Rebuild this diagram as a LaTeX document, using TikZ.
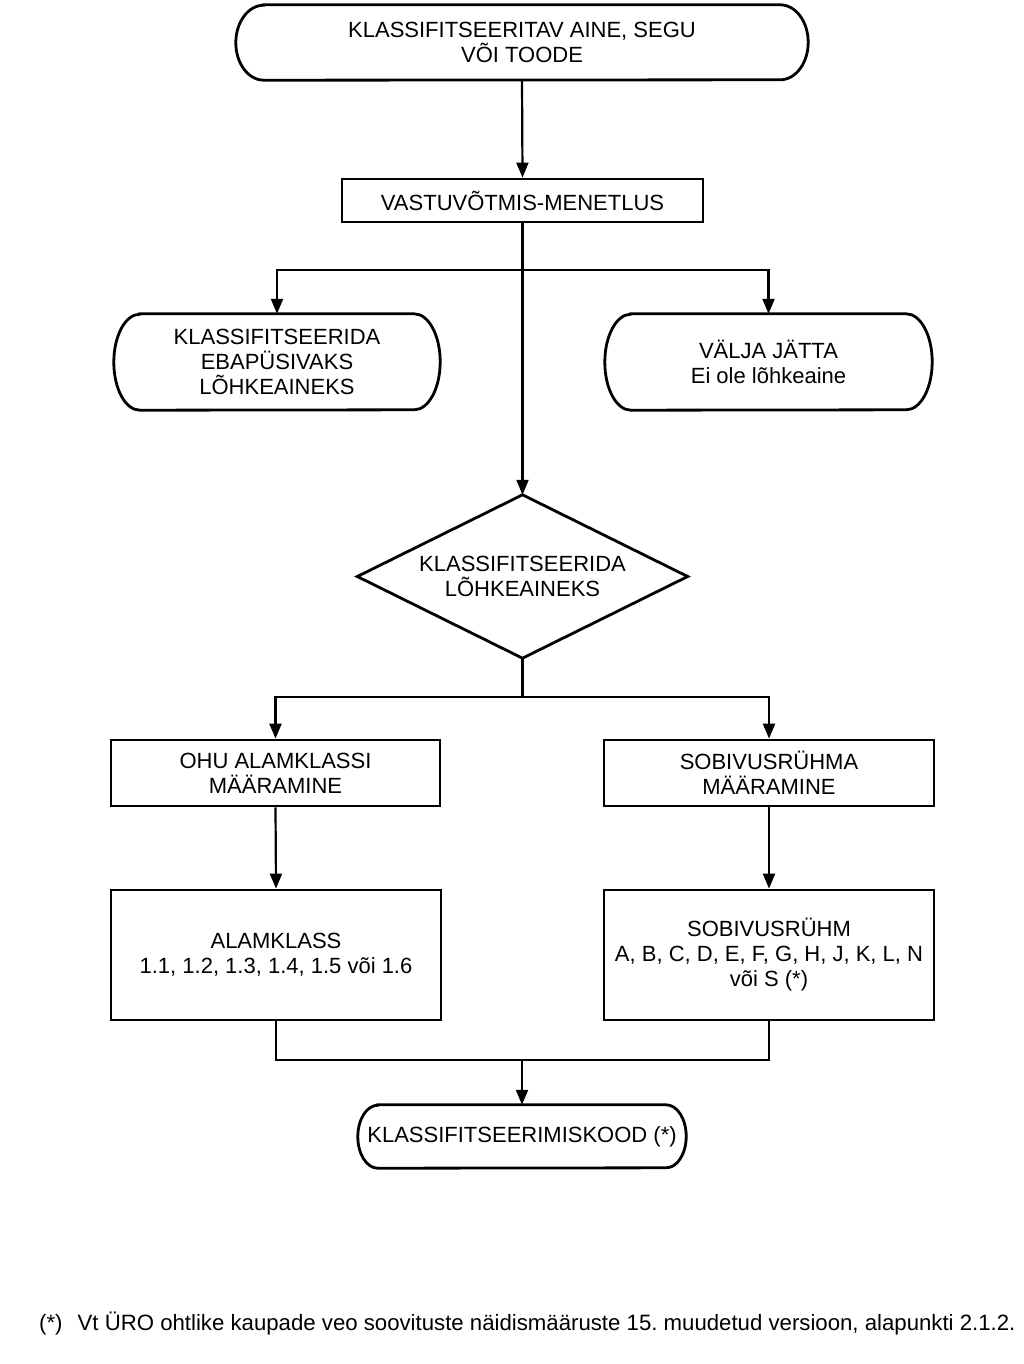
\documentclass[tikz,border=0pt]{standalone}
\usepackage{fontspec}
\setmainfont{Liberation Sans}
\usetikzlibrary{arrows.meta}
\frenchspacing
\begin{document}
\begin{tikzpicture}[x=1pt,y=-1pt,
  every node/.style={font=\fontsize{22}{25}\selectfont, align=center, inner sep=0pt},
  boxline/.style={line width=2.8pt},
  stepbox/.style={draw, boxline, rectangle},
  termbox/.style={rectangle},
  decbox/.style={rectangle},
  conn/.style={line width=2.2pt},
  arr/.style={conn, -{Triangle[length=15pt,width=12pt]}}
]
\useasboundingbox (0,0) rectangle (1023,1364);

\node[termbox, minimum width=572pt, minimum height=75pt] (top) at (522,42.5) {KLASSIFITSEERITAV AINE, SEGU\\VÕI TOODE};
\node[stepbox, minimum width=361pt, minimum height=43pt] (vast) at (522.5,200.5) {VASTUVÕTMIS-MENETLUS};
\node[termbox, minimum width=326pt, minimum height=96pt] (lt) at (277,362) {KLASSIFITSEERIDA\\EBAPÜSIVAKS\\LÕHKEAINEKS};
\node[termbox, minimum width=327pt, minimum height=96pt] (rt) at (768.5,362) {VÄLJA JÄTTA\\Ei ole lõhkeaine};
\node[decbox, minimum width=330pt, minimum height=163pt] (dec) at (522.5,576.5) {KLASSIFITSEERIDA\\LÕHKEAINEKS};
\node[stepbox, minimum width=329pt, minimum height=66pt] (ohu) at (275.5,773) {OHU ALAMKLASSI\\MÄÄRAMINE};
\node[stepbox, minimum width=330pt, minimum height=66pt] (sob) at (769,773) {SOBIVUSRÜHMA\\MÄÄRAMINE};
\node[stepbox, minimum width=330pt, minimum height=130pt] (alam) at (276,955) {ALAMKLASS\\1.1, 1.2, 1.3, 1.4, 1.5 või 1.6};
\node[stepbox, minimum width=330pt, minimum height=130pt] (sobr) at (769,955) {SOBIVUSRÜHM\\A, B, C, D, E, F, G, H, J, K, L, N\\või S (*)};
\node[termbox, minimum width=328pt, minimum height=63pt] (fin) at (522,1136.5) {KLASSIFITSEERIMISKOOD (*)};

\foreach \n/\r/\h in {top/28/37.5, lt/26/48, rt/26/48, fin/20/31.5} {
  \draw[boxline] ([xshift=\r pt]\n.north west) -- ([xshift=-\r pt]\n.north east)
    arc[start angle=90, end angle=-90, x radius=\r pt, y radius=\h pt]
    -- ([xshift=\r pt]\n.south west)
    arc[start angle=270, end angle=90, x radius=\r pt, y radius=\h pt] -- cycle;
}
\draw[boxline, line join=miter] (dec.north) -- (dec.east) -- (dec.south) -- (dec.west) -- cycle;

\coordinate (b1) at (522.5,270);
\coordinate (b2) at (522.5,697);
\coordinate (b3) at (522,1060);

\draw[arr] (top.south) -- (vast.north);
\draw[arr] (vast.south) -- (dec.north);
\draw[arr] (b1) -| (lt.north);
\draw[arr] (b1) -| (rt.north);
\draw[conn] (dec.south) -- (b2);
\draw[arr] (b2) -| (ohu.north);
\draw[arr] (b2) -| (sob.north);
\draw[arr] (ohu.south) -- (alam.north);
\draw[arr] (sob.south) -- (sobr.north);
\draw[conn] (alam.south) |- (b3);
\draw[conn] (sobr.south) |- (b3);
\draw[arr] (b3) -- (fin.north);

\node[anchor=west, font=\fontsize{22.2}{25}\selectfont] (note) at (39,1323) {(*)\hspace{15pt}Vt ÜRO ohtlike kaupade veo soovituste näidismääruste 15. muudetud versioon, alapunkti 2.1.2.};
\end{tikzpicture}
\end{document}
